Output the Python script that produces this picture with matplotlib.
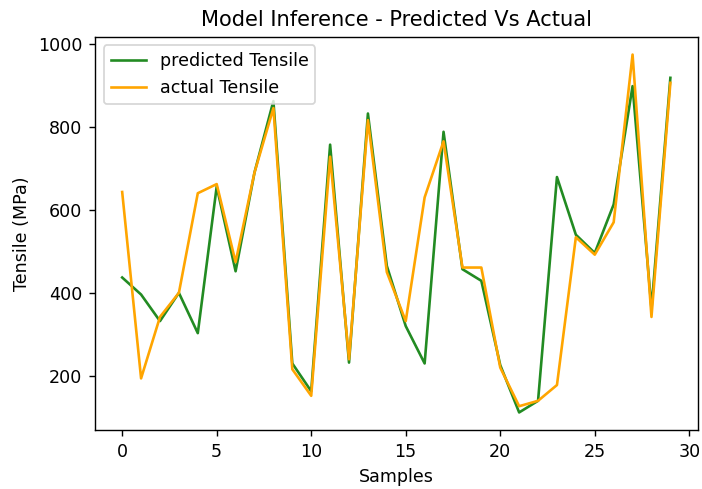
import numpy as np
import matplotlib.pyplot as plt

# tensile strength per test sample (MPa)
samples = np.arange(30)
predicted = [437, 396, 332, 400, 303, 656, 452, 690, 862, 230,
             163, 757, 232, 832, 465, 320, 230, 788, 457, 429,
             226, 112, 140, 679, 540, 496, 613, 898, 362, 918]
actual = [643, 194, 342, 400, 640, 662, 474, 690, 845, 216,
          152, 728, 240, 816, 450, 332, 630, 765, 461, 461,
          220, 127, 140, 178, 534, 492, 570, 974, 342, 906]

dpi = 126
fig = plt.figure(figsize=(702 / dpi, 489 / dpi), dpi=dpi)
ax = fig.add_axes([0.135, 0.12, 0.859, 0.805])

ax.plot(samples, predicted, color='forestgreen', label='predicted Tensile')
ax.plot(samples, actual, color='orange', label='actual Tensile')

ax.set_title('Model Inference - Predicted Vs Actual')
ax.set_xlabel('Samples')
ax.set_ylabel('Tensile (MPa)')
ax.legend(loc='upper left')

fig.savefig('out.png', dpi=dpi)
